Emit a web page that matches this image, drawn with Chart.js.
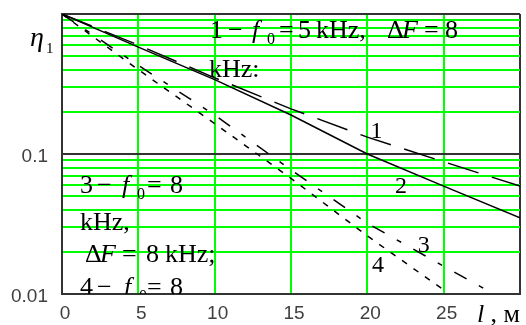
<!DOCTYPE html>
<html lang="en">
<head>
    <meta charset="UTF-8">
    <title>Attenuation vs length</title>
    <script src="https://cdn.jsdelivr.net/npm/chart.js"></script>
    <style>
        body {
            margin: 0;
            padding: 0;
            background: #fff;
        }
        canvas {
            display: block;
        }
    </style>
</head>
<body>
    <canvas id="etaChart" width="526" height="325"></canvas>

    <script>
        // Values
        const lengths12 = [0, 5, 10, 15, 20, 25, 30];
        const eta1 = [1, 0.6, 0.35, 0.21, 0.132, 0.088, 0.059];
        const eta2 = [1, 0.58, 0.34, 0.19, 0.10, 0.059, 0.035];
        const lengths3 = [0, 5, 10, 15, 20, 25, 28];
        const eta3 = [1, 0.43, 0.19, 0.077, 0.032, 0.0158, 0.0104];
        const lengths4 = [0, 5, 10, 15, 20, 25];
        const eta4 = [1, 0.40, 0.165, 0.067, 0.026, 0.0107];

        // Axis ticks
        const yTicks = [0.01, 0.02, 0.03, 0.04, 0.05, 0.06, 0.07, 0.08, 0.09,
                        0.1, 0.2, 0.3, 0.4, 0.5, 0.6, 0.7, 0.8, 0.9, 1];
        const yLabelled = [0.01, 0.1];
        const xLabelled = [0, 5, 10, 15, 20, 25];

        // Curve numbers placed in data units
        const curveNames = ['1', '2', '3', '4'];
        const curveNameL = [20.6, 22.2, 23.7, 20.7];
        const curveNameEta = [0.13, 0.053, 0.02, 0.0143];

        const GREEN = '#00ff00';
        const DARK = '#333333';
        const SERIF = '"Liberation Serif", "Times New Roman", serif';

        function points(xs, ys) {
            return xs.map((x, i) => ({ x: x, y: ys[i] }));
        }

        // formula pieces: each piece sits at its own x, on the line's baseline
        function drawPieces(ctx, pieces, y, size) {
            pieces.forEach(p => {
                const fs = p.sub ? Math.round(size * 0.62) : size;
                ctx.font = (p.it ? 'italic ' : '') + fs + 'px ' + SERIF;
                ctx.fillText(p.t, p.x, y + (p.sub ? 6 : 0));
            });
        }

        const notes = [
            { y: 38, pieces: [{ t: '1', x: 210 }, { t: '\u2212', x: 228 }, { t: 'f', x: 252, it: true },
                { t: '0', x: 267, sub: true }, { t: '=', x: 279 }, { t: '5', x: 298 }, { t: 'kHz,', x: 316 },
                { t: '\u0394', x: 387 }, { t: 'F', x: 402, it: true }, { t: '=', x: 424 }, { t: '8', x: 445 }] },
            { y: 77, pieces: [{ t: 'kHz:', x: 209 }] },
            { y: 193, pieces: [{ t: '3', x: 80 }, { t: '\u2212', x: 97 }, { t: 'f', x: 122, it: true },
                { t: '0', x: 137, sub: true }, { t: '=', x: 147 }, { t: '8', x: 170 }] },
            { y: 230, pieces: [{ t: 'kHz,', x: 80 }] },
            { y: 262, pieces: [{ t: '\u0394', x: 85 }, { t: 'F', x: 100, it: true }, { t: '=', x: 122 },
                { t: '8', x: 146 }, { t: 'kHz;', x: 165 }] },
            { y: 295, pieces: [{ t: '4', x: 80 }, { t: '\u2212', x: 97 }, { t: 'f', x: 124, it: true },
                { t: '0', x: 139, sub: true }, { t: '=', x: 147 }, { t: '8', x: 170 }] }
        ];

        const textPlugin = {
            id: 'textPlugin',
            afterDatasetsDraw(chart) {
                const ctx = chart.ctx;
                const area = chart.chartArea;
                const xs = chart.scales.x;
                const ys = chart.scales.y;
                ctx.save();
                ctx.fillStyle = '#000';
                ctx.textBaseline = 'alphabetic';

                // notes inside the plot are clipped by the frame
                ctx.save();
                ctx.beginPath();
                ctx.rect(area.left, area.top, area.right - area.left, area.bottom - area.top);
                ctx.clip();
                ctx.textAlign = 'left';
                notes.forEach(n => drawPieces(ctx, n.pieces, n.y, 26));

                ctx.textAlign = 'center';
                ctx.font = '24px ' + SERIF;
                curveNames.forEach((name, i) => {
                    ctx.fillText(name, xs.getPixelForValue(curveNameL[i]), ys.getPixelForValue(curveNameEta[i]));
                });
                ctx.restore();

                // axis names
                ctx.textAlign = 'left';
                ctx.font = 'italic 28px ' + SERIF;
                ctx.fillText('\u03b7', 30, 46);
                ctx.font = '15px ' + SERIF;
                ctx.fillText('1', 46, 53);
                ctx.font = 'italic 26px ' + SERIF;
                ctx.fillText('l', 477, 322);
                ctx.font = '26px ' + SERIF;
                ctx.fillText(' , \u043c', 484, 322);
                ctx.restore();
            }
        };

        const lineStyle = (dash) => ({
            borderColor: '#000',
            borderWidth: 1.5,
            borderDash: dash,
            pointRadius: 0,
            tension: 0,
            fill: false
        });

        const ctx = document.getElementById('etaChart').getContext('2d');
        const etaChart = new Chart(ctx, {
            type: 'line',
            data: {
                datasets: [
                    Object.assign({ label: '1', data: points(lengths12, eta1) }, lineStyle([32, 14])),
                    Object.assign({ label: '2', data: points(lengths12, eta2) }, lineStyle([])),
                    Object.assign({ label: '3', data: points(lengths3, eta3) }, lineStyle([14, 14, 5, 14])),
                    Object.assign({ label: '4', data: points(lengths4, eta4) }, lineStyle([6, 8]))
                ]
            },
            options: {
                responsive: false,
                animation: false,
                layout: {
                    padding: { top: 14, right: 6, left: 0, bottom: 0 }
                },
                plugins: {
                    legend: { display: false },
                    tooltip: { enabled: false }
                },
                scales: {
                    x: {
                        type: 'linear',
                        min: 0,
                        max: 30,
                        afterFit: s => {
                            s.height = 31;
                            s.paddingLeft = 0;
                            s.paddingRight = 0;
                        },
                        ticks: {
                            stepSize: 5,
                            autoSkip: false,
                            maxRotation: 0,
                            padding: 8,
                            labelOffset: 3,
                            color: '#404040',
                            font: { family: '"Liberation Sans", Arial, sans-serif', size: 19 },
                            callback: v => xLabelled.includes(v) ? String(v) : ''
                        },
                        grid: {
                            drawTicks: false,
                            lineWidth: 2,
                            color: c => (c.tick && (c.tick.value === 0 || c.tick.value === 30)) ? DARK : GREEN
                        },
                        border: { color: DARK, width: 2 }
                    },
                    y: {
                        type: 'logarithmic',
                        min: 0.01,
                        max: 1,
                        afterFit: s => {
                            s.width = 62;
                            s.paddingTop = 0;
                            s.paddingBottom = 0;
                        },
                        afterBuildTicks: s => { s.ticks = yTicks.map(v => ({ value: v })); },
                        ticks: {
                            autoSkip: false,
                            padding: 14,
                            labelOffset: 3,
                            color: '#404040',
                            font: { family: '"Liberation Sans", Arial, sans-serif', size: 19 },
                            callback: v => yLabelled.includes(v) ? String(v) : ''
                        },
                        grid: {
                            drawTicks: false,
                            lineWidth: 2,
                            color: c => (c.tick && [0.01, 0.1, 1].includes(c.tick.value)) ? DARK : GREEN
                        },
                        border: { color: DARK, width: 2 }
                    }
                }
            },
            plugins: [textPlugin]
        });
    </script>
</body>
</html>
